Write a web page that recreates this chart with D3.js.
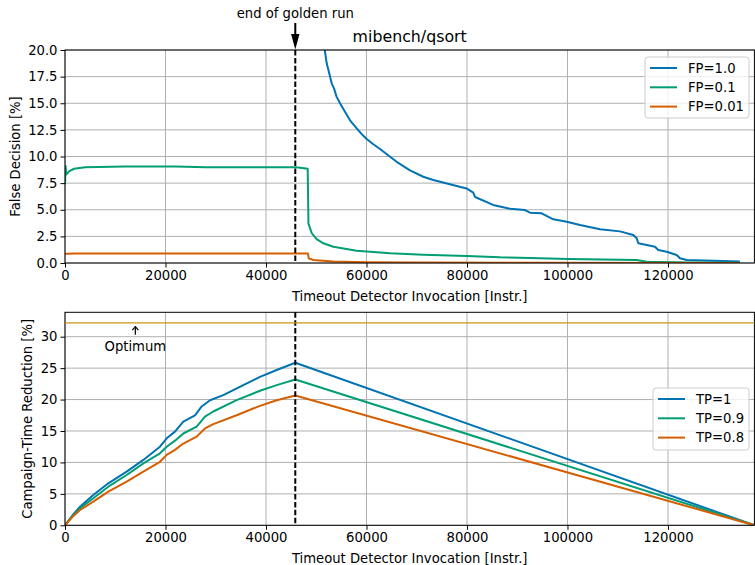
<!DOCTYPE html>
<html lang="en">
<head>
  <meta charset="UTF-8">
  <title>mibench/qsort</title>
  <script src="https://d3js.org/d3.v7.min.js"></script>
  <style>
    body {
      margin: 0;
      padding: 0;
      background: #fff;
    }
    svg text {
      font-family: 'DejaVu Sans', sans-serif;
      fill: #000;
    }
  </style>
</head>
<body>
  <svg id="chart" width="755" height="565"></svg>
  <script>
    // Données
    const xMax = 137200;
    const goldenRunEnd = 45830;
    const optimum = 32.2;

    const xTicks = [0, 20000, 40000, 60000, 80000, 100000, 120000];
    const topYTicks = [0, 2.5, 5, 7.5, 10, 12.5, 15, 17.5, 20];
    const bottomYTicks = [0, 5, 10, 15, 20, 25, 30];

    const fpLabels = ['FP=1.0', 'FP=0.1', 'FP=0.01'];
    const tpLabels = ['TP=1', 'TP=0.9', 'TP=0.8'];
    const colors = ['#0173b2', '#029e73', '#d55e00'];

    // False decision [%]
    const fp10 = [[51300, 22], [51700, 20], [52080, 18.75], [52600, 17.8], [53070, 16.87], [53530, 16.4],
      [54060, 15.6], [54730, 15.0], [55720, 14.2], [56720, 13.4], [58050, 12.65], [59050, 12.1],
      [60040, 11.64], [61360, 11.15], [62690, 10.7], [66000, 9.5], [68660, 8.7], [71300, 8.1],
      [73300, 7.8], [76600, 7.4], [79900, 7.0], [81250, 6.6], [81600, 6.2], [85200, 5.45], [88560, 5.1],
      [91540, 4.97], [92540, 4.72], [94860, 4.67], [97180, 4.1], [99840, 3.88], [102490, 3.57],
      [106470, 3.16], [110450, 2.97], [113100, 2.63], [113770, 2.32], [114100, 1.85], [115770, 1.69],
      [117410, 1.53], [118070, 1.22], [119740, 1.06], [121730, 0.75], [122390, 0.44], [123720, 0.28],
      [134300, 0.15]];
    const fp01 = [[0, 7.4], [120, 9.1], [250, 8.3], [800, 8.6], [1800, 8.85], [4000, 8.98], [12000, 9.05],
      [22000, 9.05], [28000, 9.0], [40000, 9.0], [46000, 9.0], [48300, 8.85], [48450, 3.7], [49100, 2.8],
      [50090, 2.25], [51410, 1.85], [53400, 1.53], [58050, 1.15], [64680, 0.91], [71310, 0.78],
      [79940, 0.66], [86570, 0.53], [92540, 0.48], [100160, 0.38], [113770, 0.28], [115770, 0.12],
      [124000, 0.05], [134300, 0.02]];
    const fp001 = [[0, 0.8], [300, 0.88], [2000, 0.9], [48350, 0.9], [48500, 0.44], [49400, 0.28],
      [53400, 0.15], [60000, 0.08], [70000, 0.04], [90000, 0.02], [134300, 0.01]];

    // Campaign-time reduction [%]
    const tp1 = [[0, 0], [1500, 1.6], [2990, 2.96], [5630, 4.82], [8620, 6.68], [12270, 8.53], [15590, 10.4],
      [18900, 12.5], [20240, 13.84], [21890, 14.9], [23550, 16.5], [25870, 17.5], [27200, 18.9],
      [28860, 19.9], [31500, 20.7], [35480, 22.3], [38800, 23.6], [42130, 24.7], [45830, 25.86], [137200, 0]];
    const tp09 = [[0, 0], [1500, 1.5], [2990, 2.7], [5630, 4.3], [8620, 6.14], [12270, 8.0], [15590, 9.86],
      [18900, 11.45], [20240, 12.5], [21890, 13.46], [23550, 14.6], [26200, 15.7], [27860, 17.3],
      [29510, 18.1], [34160, 19.9], [38800, 21.4], [42130, 22.3], [45830, 23.2], [137200, 0]];
    const tp08 = [[0, 0], [1500, 1.35], [2990, 2.43], [5630, 3.76], [8620, 5.35], [12270, 6.94], [15590, 8.53],
      [18900, 10.1], [20240, 11.2], [21890, 12.0], [23550, 13.0], [26200, 14.1], [27860, 15.4],
      [29510, 16.1], [34160, 17.5], [38800, 19.0], [42130, 19.9], [45830, 20.65], [137200, 0]];

    const svg = d3.select('#chart');
    const left = 65, right = 754.4;
    const x = d3.scaleLinear().domain([0, xMax]).range([left, right]);

    const drawPanel = (opts) => {
      const { top, bottom, yDomain, yTicks, yFormat, series, yLabel, yLabelX, clipId } = opts;
      const y = d3.scaleLinear().domain(yDomain).range([bottom, top]);
      const g = svg.append('g');

      g.append('clipPath').attr('id', clipId)
        .append('rect')
        .attr('x', left).attr('y', top)
        .attr('width', right - left).attr('height', bottom - top);

      // grille
      g.append('g').selectAll('line').data(xTicks).enter().append('line')
        .attr('x1', d => x(d)).attr('x2', d => x(d))
        .attr('y1', top).attr('y2', bottom)
        .attr('stroke', '#b0b0b0').attr('stroke-width', 1);
      g.append('g').selectAll('line').data(yTicks).enter().append('line')
        .attr('x1', left).attr('x2', right)
        .attr('y1', d => y(d)).attr('y2', d => y(d))
        .attr('stroke', '#b0b0b0').attr('stroke-width', 1);

      // axes
      const xAxis = d3.axisBottom(x).tickValues(xTicks).tickFormat(d3.format('d')).tickSize(4.5).tickPadding(3);
      const gx = g.append('g').attr('transform', `translate(0,${bottom})`).call(xAxis);
      const yAxis = d3.axisLeft(y).tickValues(yTicks).tickFormat(yFormat).tickSize(4.5).tickPadding(3);
      const gy = g.append('g').attr('transform', `translate(${left},0)`).call(yAxis);
      [gx, gy].forEach(a => {
        a.select('.domain').remove();
        a.selectAll('text').attr('font-size', 13.2).attr('font-family', 'DejaVu Sans').attr('fill', '#000');
        a.selectAll('line').attr('stroke', '#000').attr('stroke-width', 1);
      });
      gx.selectAll('text').attr('dy', '0.72em');

      // courbes
      const line = d3.line().x(d => x(d[0])).y(d => y(d[1]));
      g.append('g').attr('clip-path', `url(#${clipId})`)
        .selectAll('path').data(series).enter().append('path')
        .attr('d', line)
        .attr('fill', 'none')
        .attr('stroke', (d, i) => colors[i])
        .attr('stroke-width', 2)
        .attr('stroke-linejoin', 'round');

      // fin du golden run
      g.append('line')
        .attr('x1', x(goldenRunEnd)).attr('x2', x(goldenRunEnd))
        .attr('y1', top).attr('y2', bottom)
        .attr('stroke', '#000').attr('stroke-width', 2)
        .attr('stroke-dasharray', '5.5,2.4');

      // cadre
      g.append('rect')
        .attr('x', left).attr('y', top)
        .attr('width', right - left).attr('height', bottom - top)
        .attr('fill', 'none').attr('stroke', '#000').attr('stroke-width', 1);

      g.append('text')
        .attr('x', (left + right) / 2).attr('y', bottom + 37.5)
        .attr('text-anchor', 'middle').attr('font-size', 13.2)
        .text('Timeout Detector Invocation [Instr.]');
      g.append('text')
        .attr('transform', `translate(${yLabelX},${(top + bottom) / 2}) rotate(-90)`)
        .attr('text-anchor', 'middle').attr('font-size', 13.2)
        .text(yLabel);

      return { g, y };
    };

    const drawLegend = (g, labels, bx, by, bw, bh) => {
      const lg = g.append('g');
      lg.append('rect')
        .attr('x', bx).attr('y', by).attr('width', bw).attr('height', bh)
        .attr('rx', 3)
        .attr('fill', '#fff').attr('fill-opacity', 0.8)
        .attr('stroke', '#cccccc').attr('stroke-width', 1);
      labels.forEach((lab, i) => {
        const cy = by + 11 + i * 19.3;
        lg.append('line')
          .attr('x1', bx + 5).attr('x2', bx + 32)
          .attr('y1', cy).attr('y2', cy)
          .attr('stroke', colors[i]).attr('stroke-width', 2);
        lg.append('text')
          .attr('x', bx + 43).attr('y', cy)
          .attr('dy', '0.36em').attr('font-size', 13.2)
          .text(lab);
      });
    };

    // panneau du haut
    const topPanel = drawPanel({
      top: 50, bottom: 263, yDomain: [0, 20], yTicks: topYTicks,
      yFormat: d3.format('.1f'), series: [fp10, fp01, fp001],
      yLabel: 'False Decision [%]', yLabelX: 19.5, clipId: 'clipTop'
    });
    drawLegend(topPanel.g, fpLabels, 645, 57, 104, 61);

    svg.append('text')
      .attr('x', (left + right) / 2).attr('y', 41.7)
      .attr('text-anchor', 'middle').attr('font-size', 15.8)
      .text('mibench/qsort');

    // annotation "end of golden run"
    const gx0 = x(goldenRunEnd);
    svg.append('text')
      .attr('x', gx0).attr('y', 18.3)
      .attr('text-anchor', 'middle').attr('font-size', 13.2)
      .text('end of golden run');
    svg.append('path')
      .attr('d', `M${gx0 - 1},23 L${gx0 + 1},23 L${gx0 + 1},34 L${gx0 + 4.2},34 L${gx0},49.5 L${gx0 - 4.2},34 L${gx0 - 1},34 Z`)
      .attr('fill', '#000');

    // panneau du bas
    const bottomPanel = drawPanel({
      top: 312.3, bottom: 525.3, yDomain: [0, 33.88], yTicks: bottomYTicks,
      yFormat: d3.format('d'), series: [tp1, tp09, tp08],
      yLabel: 'Campaign-Time Reduction [%]', yLabelX: 31.5, clipId: 'clipBottom'
    });
    const yB = bottomPanel.y;
    bottomPanel.g.append('line')
      .attr('x1', left).attr('x2', right)
      .attr('y1', yB(optimum)).attr('y2', yB(optimum))
      .attr('stroke', '#c8960c').attr('stroke-width', 1.3);

    // annotation "Optimum"
    const ox = x(14000);
    bottomPanel.g.append('line')
      .attr('x1', ox).attr('x2', ox)
      .attr('y1', yB(30.3)).attr('y2', yB(31.6))
      .attr('stroke', '#000').attr('stroke-width', 1.2);
    bottomPanel.g.append('path')
      .attr('d', `M${ox - 3},${yB(31.6) + 3.5} L${ox},${yB(31.6)} L${ox + 3},${yB(31.6) + 3.5}`)
      .attr('fill', 'none').attr('stroke', '#000').attr('stroke-width', 1.2);
    bottomPanel.g.append('text')
      .attr('x', ox).attr('y', 350.7)
      .attr('text-anchor', 'middle').attr('font-size', 13.2)
      .text('Optimum');

    drawLegend(bottomPanel.g, tpLabels, 653, 388, 96, 62);
  </script>
</body>
</html>
